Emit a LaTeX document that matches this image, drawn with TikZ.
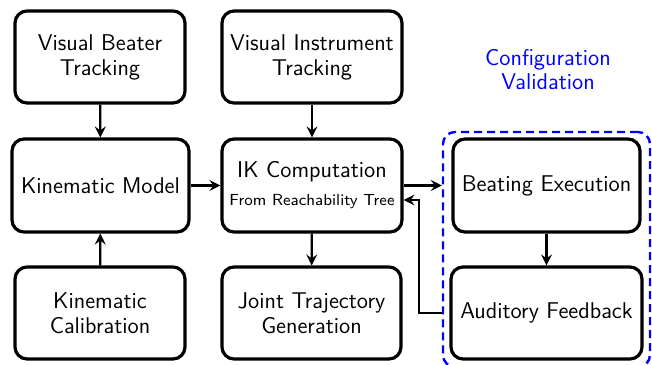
\documentclass[tikz,border=0pt]{standalone}
\usetikzlibrary{arrows.meta}
\renewcommand{\familydefault}{\sfdefault}
\begin{document}
\begin{tikzpicture}[x=0.5pt,y=-0.5pt,
  box/.style={draw, line width=1.6pt, rounded corners=6pt, align=center, inner sep=0pt, font=\fontsize{11.4}{12.5}\selectfont},
  arr/.style={line width=1.1pt, -{Stealth[length=5.5pt,width=5.5pt,inset=2pt]}},
  grp/.style={draw=blue, line width=1.2pt, rounded corners=6pt, dash pattern=on 4pt off 2.5pt}]
\useasboundingbox (0,0) rectangle (652,364);
\node[box, minimum width=85pt, minimum height=46pt] (vbt) at (100,57) {Visual Beater\\Tracking};
\node[box, minimum width=90pt, minimum height=46pt] (vit) at (312,57) {Visual Instrument\\Tracking};
\node[box, minimum width=88.5pt, minimum height=46.5pt] (km) at (100.5,185.5) {Kinematic Model};
\node[box, minimum width=90pt, minimum height=46.5pt] (ik) at (312,185.5) {IK Computation\\[1.5pt]{\fontsize{8}{9}\selectfont From Reachability Tree}};
\node[box, minimum width=85pt, minimum height=46pt] (kc) at (100,313) {Kinematic\\Calibration};
\node[box, minimum width=89.5pt, minimum height=46pt] (jt) at (311.5,313) {Joint Trajectory\\Generation};
\node[box, minimum width=93.5pt, minimum height=46.5pt] (be) at (546.5,185.5) {Beating Execution};
\node[box, minimum width=95.5pt, minimum height=46pt] (af) at (546.5,313) {Auditory Feedback};
\node[minimum width=103.5pt, minimum height=117.5pt, inner sep=0pt, grp] (val) at (546.5,249.5) {};
\node[text=blue, align=center, font=\fontsize{11.4}{12}\selectfont] (lbl) at (548,70) {Configuration\\Validation};
\draw[arr] (vbt) -- (km);
\draw[arr] (vit) -- (ik);
\draw[arr] (kc) -- (km);
\draw[arr] (km) -- (ik);
\draw[arr] (ik) -- (jt);
\draw[arr] (be) -- (af);
\draw[arr] (ik.east) -- (ik.east -| val.west);
\coordinate (bend) at (419,313);
\draw[arr] (val.west |- af.west) -- (bend) -- (bend |- 0,200) -- (ik.east |- 0,200);
\end{tikzpicture}
\end{document}
